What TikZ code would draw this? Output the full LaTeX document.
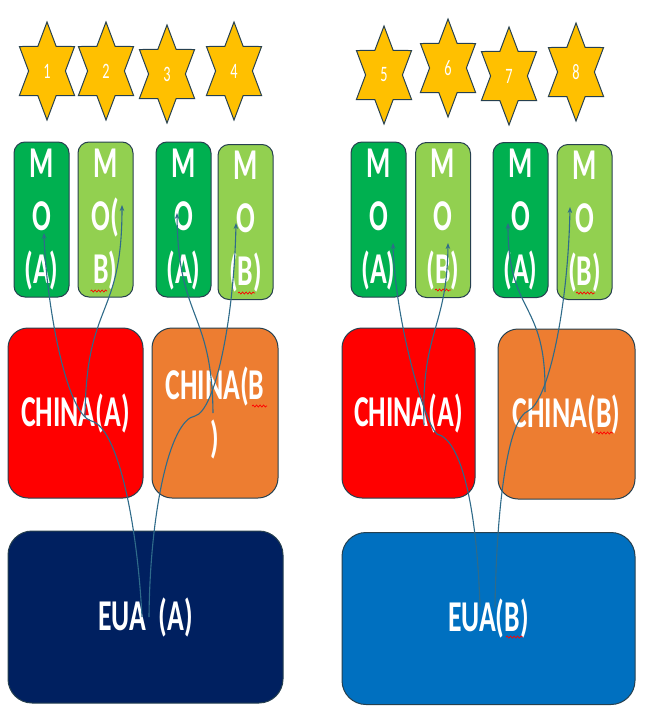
\documentclass[tikz,border=0pt]{standalone}
\usepackage{fontspec}
\usepackage{tikz}
\usetikzlibrary{shapes.geometric,arrows.meta,calc,decorations.pathmorphing}
\newfontfamily\boxfont[FakeStretch=0.63]{Carlito Bold}
\newfontfamily\numfont{Carlito}
\definecolor{edge}{HTML}{26404F}
\definecolor{gold}{HTML}{FFC000}
\definecolor{greenA}{HTML}{00B050}
\definecolor{greenB}{HTML}{92D050}
\definecolor{redA}{HTML}{FF0000}
\definecolor{orangeB}{HTML}{ED7D31}
\definecolor{navy}{HTML}{002060}
\definecolor{blueB}{HTML}{0070C0}
\definecolor{linkc}{HTML}{2F6B8A}
\tikzset{
  starNode/.style={star, star points=6, star point ratio=1.732, minimum size=98pt, inner sep=0pt,
    fill=gold, draw=edge, line width=1pt, text=white, font=\numfont\fontsize{22}{22}\selectfont},
  box/.style={draw=edge, line width=1pt, text=white, align=center, inner sep=0pt,
    font=\boxfont\fontsize{44}{53}\selectfont},
  moBox/.style={box, rounded corners=11pt, minimum width=55pt, minimum height=155pt},
  chinaBox/.style={box, rounded corners=20pt, minimum height=170pt},
  euaBox/.style={box, rounded corners=24pt, minimum height=172pt},
  conn/.style={draw=linkc, line width=1.1pt, -{Stealth[length=6pt,width=4.5pt]}},
  squig/.style={draw=red, line width=0.7pt, decorate, decoration={snake, amplitude=1pt, segment length=3.5pt}}
}

\begin{document}
\begin{tikzpicture}[x=1pt,y=-1pt]
\useasboundingbox (0,0) rectangle (667,728);

% stars
\foreach \n/\x/\y in {1/47/71, 2/106/71, 3/167/74, 4/234/71, 5/384/75, 6/448/68, 7/509/76, 8/576/72}{
  \begin{scope}[shift={(\x,\y)}, xscale=0.65]
    \node[starNode, transform shape] (s\n) at (0,0) {\n};
  \end{scope}
}

% left group
\node[moBox, fill=greenA] (mo1) at (41.5,219.5) {M\\O\\(A)};
\node[moBox, fill=greenB] (mo2) at (105.5,219.5) {M\\O(\\B)};
\node[moBox, fill=greenA] (mo3) at (183.5,219.5) {M\\O\\(A)};
\node[moBox, fill=greenB] (mo4) at (245.5,222) {M\\O\\(B)};
\node[chinaBox, fill=redA, minimum width=135pt] (chinaA1) at (75.5,413) {CHINA(A)};
\node[chinaBox, fill=orangeB, minimum width=126pt] (chinaB1) at (215,413) {CHINA(B\\)};
\node[euaBox, fill=navy, minimum width=275pt] (euaA) at (145.5,617) {EUA\ \ (A)};

% right group
\node[moBox, fill=greenA] (mo5) at (378.5,219.5) {M\\O\\(A)};
\node[moBox, fill=greenB] (mo6) at (443,220) {M\\O\\(B)};
\node[moBox, fill=greenA] (mo7) at (520.5,220) {M\\O\\(A)};
\node[moBox, fill=greenB] (mo8) at (584.5,222) {M\\O\\(B)};
\node[chinaBox, fill=redA, minimum width=133pt] (chinaA2) at (408.5,413) {CHINA(A)};
\node[chinaBox, fill=orangeB, minimum width=137pt] (chinaB2) at (566.5,414) {CHINA(B)};
\node[euaBox, fill=blueB, minimum width=293pt] (euaB) at (488.5,618.5) {EUA(B)};

% spelling marks
\draw[squig] ($(mo2)+(-15,71.5)$) -- ($(mo2)+(1.5,71.5)$);
\draw[squig] ($(mo4)+(-7.5,71)$) -- ($(mo4)+(9.5,71)$);
\draw[squig] ($(chinaB1)+(37,-7)$) -- ($(chinaB1)+(52,-7)$);
\draw[squig] ($(mo6)+(-8,70)$) -- ($(mo6)+(8,70)$);
\draw[squig] ($(mo8)+(-8.5,71)$) -- ($(mo8)+(10.5,71)$);
\draw[squig] ($(chinaB2)+(29.5,19)$) -- ($(chinaB2)+(46.5,19)$);
\draw[squig] ($(euaB)+(17.5,18.5)$) -- ($(euaB)+(34.5,18.5)$);

% links, left
\draw[conn] ($(euaA)+(-3.5,0)$) .. controls +(-5,-97) and +(26,7) .. ($(chinaA1)+(16,8)$)
  .. controls +(-26,-7) and +(2,67) .. ($(mo1)+(2.5,13.5)$);
\draw[conn] ($(chinaA1)+(9.5,4)$) .. controls +(1,-117) and +(0,115) .. ($(mo2)+(16.5,-14.5)$);
\draw[conn] ($(euaA)+(3.5,0)$) .. controls +(1,-107) and +(-25,4) .. ($(chinaB1)+(-20,3)$)
  .. controls +(20,-5) and +(-2,97) .. ($(mo4)+(-9.5,1)$);
\draw[conn] ($(chinaB1)+(-2,0)$) .. controls +(-1,-103) and +(1,107) .. ($(mo3)+(-6.5,-6.5)$);

% links, right
\draw[conn] ($(euaB)+(-8.5,-11.5)$) .. controls +(-3,-97) and +(25,6) .. ($(chinaA2)+(28.5,21)$)
  .. controls +(-12,-9) and +(2,77) .. ($(mo5)+(14.5,23.5)$);
\draw[conn] ($(chinaA2)+(15.5,12)$) .. controls +(-3,-95) and +(-1,87) .. ($(mo6)+(5,23)$);
\draw[conn] ($(euaB)+(6.5,-11.5)$) .. controls +(2,-117) and +(-18,7) .. ($(chinaB2)+(-38.5,-3)$)
  .. controls +(20,-9) and +(-2,103) .. ($(mo8)+(-14.5,-15)$);
\draw[conn] ($(chinaB2)+(-21.5,-22)$) .. controls +(1,-92) and +(0,92) .. ($(mo7)+(-12.5,3)$);
\end{tikzpicture}
\end{document}
